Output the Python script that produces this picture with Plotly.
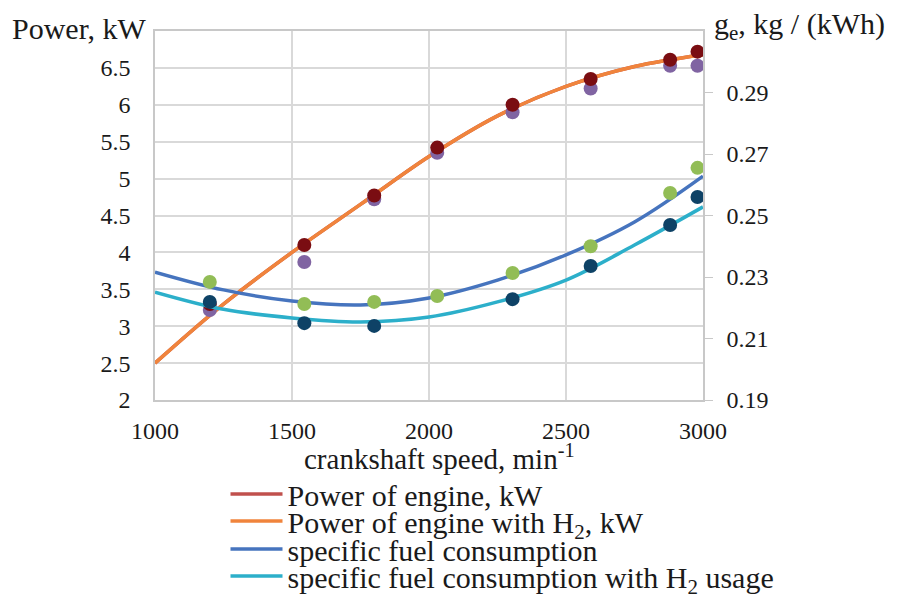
import plotly.graph_objects as go

# Curve (trend line) readings
curve_x = [1000, 1250, 1500, 1750, 2000, 2250, 2500, 2750, 3000]
power = [2.5, 3.3, 4.0, 4.65, 5.3, 5.85, 6.25, 6.52, 6.68]
power_h2 = [2.5, 3.3, 4.0, 4.65, 5.3, 5.85, 6.25, 6.52, 6.68]
sfc = [0.2316, 0.2258, 0.2222, 0.2209, 0.2232, 0.229, 0.2372, 0.2479, 0.2628]
sfc_h2 = [0.2251, 0.2195, 0.2167, 0.2154, 0.217, 0.2219, 0.229, 0.2404, 0.2528]

# Measured points
pt_x = [1200, 1545, 1800, 2030, 2305, 2590, 2880, 2980]
power_pts = [3.3, 4.10, 4.77, 5.42, 6.0, 6.35, 6.61, 6.72]
power_h2_pts = [3.22, 3.87, 4.72, 5.35, 5.9, 6.22, 6.53, 6.53]
sfc_pts = [0.2284, 0.2212, 0.2219, 0.2238, 0.2313, 0.240, 0.2573, 0.2655]
sfc_h2_x = [1200, 1545, 1800, 2305, 2590, 2880, 2980]
sfc_h2_pts = [0.2219, 0.215, 0.2141, 0.2228, 0.2336, 0.2469, 0.256]

left_ticks = [2, 2.5, 3, 3.5, 4, 4.5, 5, 5.5, 6, 6.5]
left_labels = ["2", "2.5", "3", "3.5", "4", "4.5", "5", "5.5", "6", "6.5"]
right_ticks = [0.19, 0.21, 0.23, 0.25, 0.27, 0.29]
x_ticks = [1000, 1500, 2000, 2500, 3000]

FONT = "Liberation Serif"
GRID = "#D9D9D9"
AXLINE = "#C8C8C8"

# page body margin offset (figure sits 8px in from the window corner)
OFF = 8
W, H = 899 - OFF, 594 - OFF
PLOT_L, PLOT_R = 155 - OFF, 703 - OFF
PLOT_TOP, PLOT_BOTTOM = 31 - OFF, 400 - OFF
PW, PH = PLOT_R - PLOT_L, PLOT_BOTTOM - PLOT_TOP


def py2paper(py_page):
    return (PLOT_BOTTOM - (py_page - OFF)) / PH


def px2paper(px_page):
    return ((px_page - OFF) - PLOT_L) / PW


fig = go.Figure()
fig.add_trace(go.Scatter(x=curve_x, y=power, mode="lines", line=dict(color="#C0504D", width=3.5, shape="spline"),
                         name="Power of engine, kW", legend="legend"))
fig.add_trace(go.Scatter(x=curve_x, y=power_h2, mode="lines", line=dict(color="#F0843C", width=3.5, shape="spline"),
                         name="Power of engine with H<sub>2</sub>, kW", legend="legend2"))
fig.add_trace(go.Scatter(x=curve_x, y=sfc, mode="lines", line=dict(color="#4674BE", width=3.5, shape="spline"),
                         name="specific fuel consumption", yaxis="y2", legend="legend3"))
fig.add_trace(go.Scatter(x=curve_x, y=sfc_h2, mode="lines", line=dict(color="#2CAFCA", width=3.5, shape="spline"),
                         name="specific fuel consumption with H<sub>2</sub> usage", yaxis="y2", legend="legend4"))

fig.add_trace(go.Scatter(x=pt_x, y=power_h2_pts, mode="markers", marker=dict(color="#8064A2", size=14),
                         showlegend=False))
fig.add_trace(go.Scatter(x=pt_x, y=power_pts, mode="markers", marker=dict(color="#7A0D12", size=14),
                         showlegend=False))
fig.add_trace(go.Scatter(x=pt_x, y=sfc_pts, mode="markers", marker=dict(color="#92BD56", size=14),
                         showlegend=False, yaxis="y2"))
fig.add_trace(go.Scatter(x=sfc_h2_x, y=sfc_h2_pts, mode="markers", marker=dict(color="#0E4266", size=14),
                         showlegend=False, yaxis="y2"))

legend_rows = [494, 521, 549, 576]
legend_common = dict(x=px2paper(225.5), xanchor="left", yanchor="middle",
                     font=dict(family=FONT, size=30, color="#1a1a1a"),
                     bgcolor="rgba(0,0,0,0)", itemwidth=52)

fig.update_layout(
    width=W, height=H,
    margin=dict(l=PLOT_L, r=W - PLOT_R, t=PLOT_TOP, b=H - PLOT_BOTTOM, autoexpand=False),
    paper_bgcolor="white", plot_bgcolor="white",
    font=dict(family=FONT, size=24, color="#1a1a1a"),
    xaxis=dict(range=[1000, 3000], tickvals=x_ticks, showgrid=True, gridcolor=GRID, gridwidth=1.5,
               showline=True, linecolor=AXLINE, linewidth=1.5, mirror=True, ticks="",
               ticklabelstandoff=8, zeroline=False, automargin=False),
    yaxis=dict(range=[2, 7], tickvals=left_ticks, ticktext=left_labels, showgrid=True, gridcolor=GRID,
               gridwidth=1.5, showline=True, linecolor=AXLINE, linewidth=1.5, ticks="",
               ticklabelstandoff=18, zeroline=False, automargin=False),
    yaxis2=dict(range=[0.19, 0.31], tickvals=right_ticks, overlaying="y", side="right", showgrid=False,
                showline=True, linecolor=AXLINE, linewidth=1.5, ticks="outside", ticklen=8,
                tickcolor=AXLINE, ticklabelstandoff=9, zeroline=False, automargin=False),
    legend=dict(y=py2paper(legend_rows[0]), **legend_common),
    legend2=dict(y=py2paper(legend_rows[1]), **legend_common),
    legend3=dict(y=py2paper(legend_rows[2]), **legend_common),
    legend4=dict(y=py2paper(legend_rows[3]), **legend_common),
    showlegend=True,
    annotations=[
        dict(text="Power, kW", xref="paper", yref="paper", x=px2paper(148), y=py2paper(28), xanchor="right",
             yanchor="middle", showarrow=False, font=dict(family=FONT, size=30)),
        dict(text="g<sub>e</sub>, kg / (kWh)", xref="paper", yref="paper", x=px2paper(712), y=py2paper(26),
             xanchor="left", yanchor="middle", showarrow=False, font=dict(family=FONT, size=30)),
        dict(text="crankshaft speed, min<sup>-1</sup>", xref="paper", yref="paper", x=px2paper(439),
             y=py2paper(457), xanchor="center", yanchor="middle", showarrow=False,
             font=dict(family=FONT, size=29)),
    ],
)

fig.write_html("out.html")
